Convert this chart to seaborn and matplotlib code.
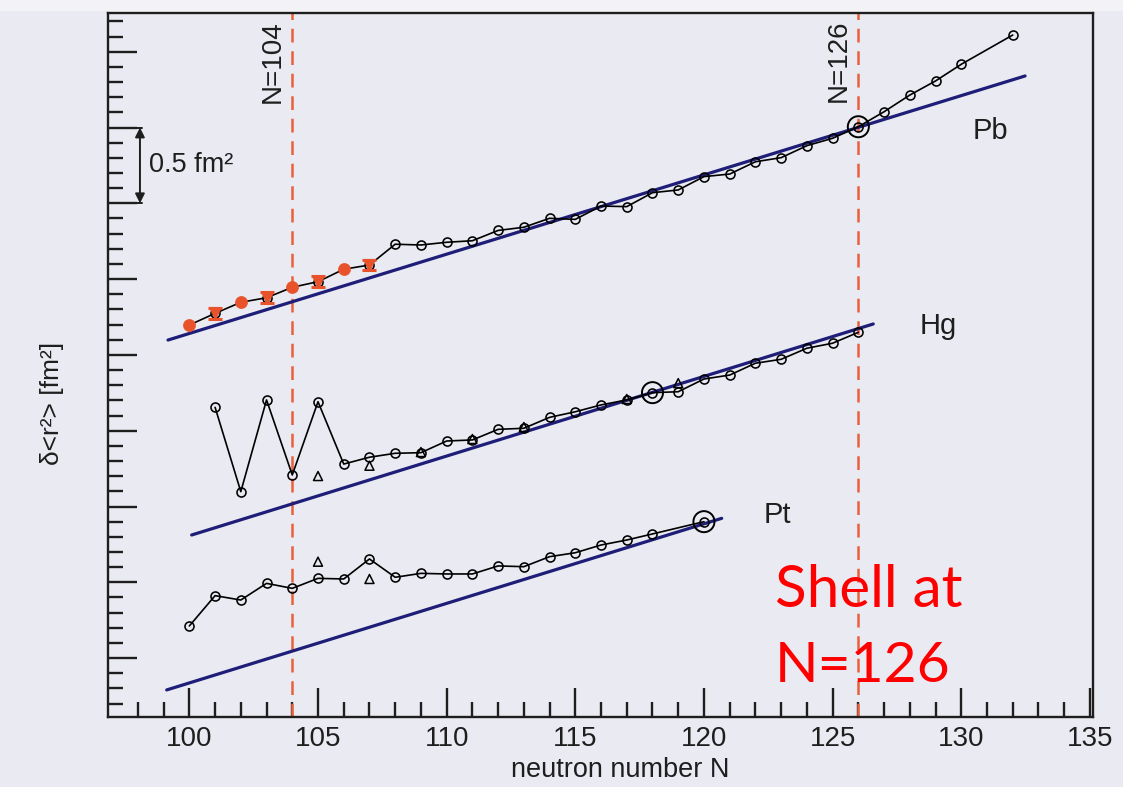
import numpy as np
import pandas as pd
import matplotlib
matplotlib.use("Agg")
import matplotlib.pyplot as plt
import seaborn as sns
from matplotlib.ticker import MultipleLocator, NullFormatter, FixedLocator
from matplotlib.patches import Rectangle

# ---------------- data ----------------
pb_N = [100, 101, 102, 103, 104, 105, 106, 107, 108, 109, 110, 111, 112, 113, 114, 115,
        116, 117, 118, 119, 120, 121, 122, 123, 124, 125, 126, 127, 128, 129, 130, 132]
pb_v = [2.197, 2.274, 2.347, 2.377, 2.446, 2.483, 2.565, 2.593, 2.730, 2.725, 2.743, 2.753,
        2.821, 2.842, 2.901, 2.894, 2.982, 2.978, 3.070, 3.088, 3.176, 3.193, 3.274, 3.301,
        3.380, 3.429, 3.505, 3.604, 3.714, 3.807, 3.917, 4.110]
pb_orange_dot_N = [100, 102, 104, 106]
pb_orange_tri_N = [101, 103, 105, 107]
pb_orange_tri_err = [0.035, 0.035, 0.035, 0.035]

hg_N = [101, 102, 103, 104, 105, 106, 107, 108, 109, 110, 111, 112, 113, 114, 115, 116,
        117, 118, 119, 120, 121, 122, 123, 124, 125, 126]
hg_v = [1.654, 1.098, 1.703, 1.208, 1.691, 1.280, 1.325, 1.351, 1.355, 1.432, 1.439, 1.509,
        1.516, 1.588, 1.625, 1.670, 1.703, 1.751, 1.757, 1.841, 1.867, 1.945, 1.971, 2.044,
        2.077, 2.149]
hg_tri_N = [105, 107, 109, 111, 113, 117, 119]
hg_tri_v = [1.201, 1.269, 1.359, 1.445, 1.524, 1.709, 1.814]

pt_N = [100, 101, 102, 103, 104, 105, 106, 107, 108, 109, 110, 111, 112, 113, 114, 115,
        116, 117, 118, 120]
pt_v = [0.212, 0.412, 0.383, 0.493, 0.460, 0.526, 0.522, 0.654, 0.533, 0.559, 0.555, 0.555,
        0.608, 0.603, 0.669, 0.695, 0.746, 0.779, 0.819, 0.900]
pt_tri_N = [105, 107]
pt_tri_v = [0.636, 0.522]

# reference (straight) lines: end points
pb_fit_N = [99.17, 132.48]
pb_fit_v = [2.098, 3.840]
hg_fit_N = [100.09, 126.58]
hg_fit_v = [0.812, 2.204]
pt_fit_N = [99.12, 120.69]
pt_fit_v = [-0.210, 0.922]

# reference isotopes (double ring)
ref_N = [126, 118, 120]
ref_v = [3.505, 1.751, 0.900]

shell_N = [104, 126]
shell_labels = ["N=104", "N=126"]

x_ticks = [100, 105, 110, 115, 120, 125, 130, 135]
x_minor_ticks = list(range(98, 136))

# ---------------- style ----------------
BG = "#EAEAF2"
ORANGE = "#E8532B"
DASH = "#E8603C"
NAVY = "#1E1E78"
INK = "#1E1E1E"

sns.set_theme(style="white", rc={"axes.facecolor": BG, "figure.facecolor": BG})
plt.rcParams["font.family"] = ["Liberation Sans", "DejaVu Sans"]

fig = plt.figure(figsize=(11.23, 7.87), dpi=100)
fig.patches.append(Rectangle((0, 1 - 10 / 787), 1, 10 / 787, transform=fig.transFigure,
                             color="#F3F3F7", zorder=0))
ax = fig.add_axes([108.3 / 1123, 1 - 717.3 / 787, (1093 - 108.3) / 1123, (717.3 - 13.3) / 787])
ax.set_facecolor(BG)

# reference lines
for fn, fv in [(pb_fit_N, pb_fit_v), (hg_fit_N, hg_fit_v), (pt_fit_N, pt_fit_v)]:
    sns.lineplot(x=fn, y=fv, color=NAVY, lw=2.3, ax=ax, zorder=2, estimator=None, sort=False)

# shell closure dashed lines
for n in shell_N:
    ax.axvline(n, color=DASH, lw=1.8, dashes=(5.5, 3.5), zorder=1)

line_kws = dict(color="black", lw=1.2, marker="o", markersize=6.5,
                markerfacecolor="none", markeredgecolor="black", markeredgewidth=1.15,
                estimator=None, sort=False, ax=ax, zorder=3)
for nn, vv in [(pb_N, pb_v), (hg_N, hg_v), (pt_N, pt_v)]:
    sns.lineplot(data=pd.DataFrame({"N": nn, "v": vv}), x="N", y="v", **line_kws)

# triangles (second data set) for Hg and Pt
tri_df = pd.DataFrame({"N": hg_tri_N + pt_tri_N, "v": hg_tri_v + pt_tri_v})
sns.scatterplot(data=tri_df, x="N", y="v", marker="^", s=42, facecolor="none",
                edgecolor="black", linewidth=1.1, ax=ax, zorder=4)

# orange points on the Pb chain
pb_map = dict(zip(pb_N, pb_v))
dot_v = [pb_map[n] for n in pb_orange_dot_N]
tri_v = [pb_map[n] for n in pb_orange_tri_N]
sns.scatterplot(x=pb_orange_dot_N, y=dot_v, color=ORANGE, s=75, edgecolor=ORANGE,
                linewidth=0.5, ax=ax, zorder=5)
ax.errorbar(pb_orange_tri_N, tri_v, yerr=pb_orange_tri_err, fmt="none", ecolor=ORANGE,
            elinewidth=2.2, capsize=5, capthick=2.2, zorder=5)
sns.scatterplot(x=pb_orange_tri_N, y=tri_v, marker="v", color=ORANGE, s=80, edgecolor=ORANGE,
                linewidth=0.5, ax=ax, zorder=6)

# reference isotopes: double ring
sns.scatterplot(x=ref_N, y=ref_v, marker="o", s=230, facecolor="none", edgecolor="black",
                linewidth=1.4, ax=ax, zorder=6)

# ---------------- axes ----------------
ax.set_xlim(96.85, 135.12)
ax.set_ylim(-0.3905, 4.2533)
ax.set_xticks(x_ticks)
ax.set_xticklabels([str(t) for t in x_ticks])
ax.xaxis.set_minor_locator(FixedLocator(x_minor_ticks))
ax.yaxis.set_major_locator(MultipleLocator(0.5))
ax.yaxis.set_minor_locator(MultipleLocator(0.1))
ax.yaxis.set_major_formatter(NullFormatter())
ax.tick_params(axis="both", which="both", direction="in", color=INK, width=1.7,
               bottom=True, left=True, top=False, right=False)
ax.tick_params(axis="both", which="major", length=21)
ax.tick_params(axis="both", which="minor", length=10.5)
ax.tick_params(axis="x", which="major", labelsize=20, pad=6, labelcolor=INK)
for side in ["left", "right", "top", "bottom"]:
    ax.spines[side].set_color(INK)
    ax.spines[side].set_linewidth(1.7)
ax.grid(False)

ax.set_xlabel("neutron number N", fontsize=19.5, color=INK)
ax.xaxis.set_label_coords(0.52, -0.056)
ax.set_ylabel("δ<r²> [fm²]", fontsize=19, color=INK)
ax.yaxis.set_label_coords(-0.045, 0.4465)

# N=104 / N=126 labels
for n, lab, xr in zip(shell_N, shell_labels, [103.76, 125.74]):
    ax.text(xr, 4.21, lab, rotation=90, ha="right", va="top", fontsize=20, color=INK)

# isotope labels
ax.text(130.46, 3.477, "Pb", fontsize=21, ha="left", va="center", color=INK)
ax.text(128.40, 2.19, "Hg", fontsize=21, ha="left", va="center", color=INK)
ax.text(122.30, 0.944, "Pt", fontsize=21, ha="left", va="center", color=INK)

# 0.5 fm^2 scale bracket
ax.plot([96.85, 98.15], [3.5, 3.5], color=INK, lw=1.4, zorder=3)
ax.plot([96.85, 98.15], [3.0, 3.0], color=INK, lw=1.4, zorder=3)
ax.annotate("", xy=(98.08, 3.5), xytext=(98.08, 3.0),
            arrowprops=dict(arrowstyle="<|-|>", color=INK, lw=1.4,
                            mutation_scale=14, shrinkA=0, shrinkB=0))
ax.text(98.42, 3.25, "0.5 fm²", fontsize=19.5, ha="left", va="center", color=INK)

# red annotation
ax.text(122.76, 0.337, "Shell at", fontsize=42, color="#FF0000", ha="left", va="baseline",
        family=["Lato", "DejaVu Sans"])
ax.text(122.76, -0.158, "N=126", fontsize=41, color="#FF0000", ha="left", va="baseline",
        family=["Lato", "DejaVu Sans"])

fig.savefig("out.png", dpi=100, facecolor=BG)
